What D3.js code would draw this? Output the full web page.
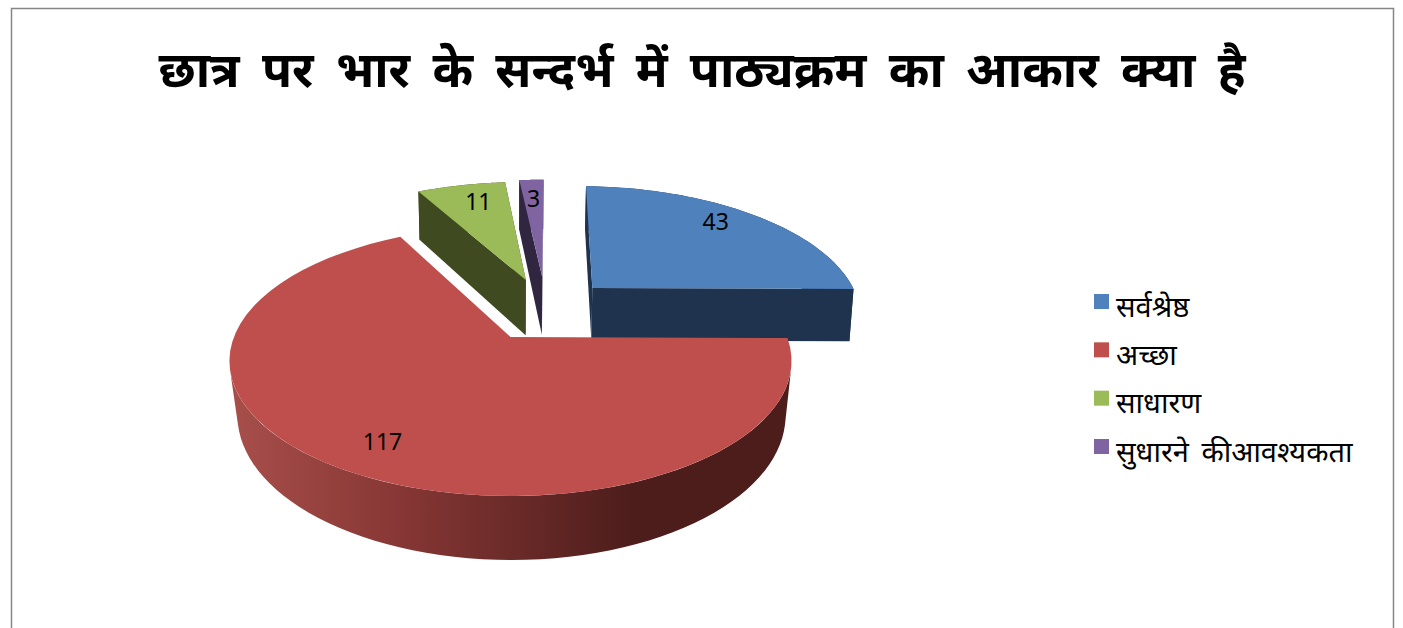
<!DOCTYPE html>
<html><head><meta charset="utf-8">
<script src="https://cdn.jsdelivr.net/npm/d3@7"></script>
<style>html,body{margin:0;padding:0;background:#fff;overflow:hidden}svg{display:block}text{font-family:"Noto Sans","Noto Sans Devanagari","Lohit Devanagari",Mangal,sans-serif}</style>
</head><body><svg id="c" width="1403" height="628"></svg>
<script>
const titleText = "छात्र पर भार के सन्दर्भ में पाठ्यक्रम का आकार क्या है";
const categories = ["सर्वश्रेष्ठ","अच्छा","साधारण","सुधारने कीआवश्यकता"];
const values = [43,117,11,3];
const colors = ["#4F81BD","#BF4F4C","#9BBB59","#8064A2"];
const wallColors = ["#1F334E","#BF4F4C","#3F4A20","#30263F"];
// in-plane explosion of each slice, in pie radii
const explodeX = [0.317,0,0.06,0.125];
const explodeY = [0.402,0,0.473,0.5];
const sliceRadiusX = [1.01,1,1.03,1.03];
const sliceRadiusY = [1.05,1,1.03,1.03];
const sliceDepth = [56,52.6,60,63];
const sliceBottomScale = [0.988,0.975,0.988,0.988];
const labelR = [0.85,0.81,0.82,0.80];
const labelShift = [-4.6,-1.5,1.8,0];
const rotationDeg = 1.5;

const cx=510.5, cy=337, persp=0.178;
const rad=d=>d*Math.PI/180;
const sx=d3.scaleLinear().domain([-1,1]).range([cx-276.6,cx+276.6]);
const sy=d3.scaleLinear().domain([-1,1]).range([cy+130.7,cy-130.7]);
function proj(x,y,i,low){
  const t=1/(1+persp*y);
  let X=sx(x*t), Y=sy(y*t);
  if(low){X=cx+(X-cx)*sliceBottomScale[i]+(i===1?1:0); Y+=sliceDepth[i]*t;}
  return [X,Y];
}
const svg=d3.select("#c");
const defs=svg.append("defs");
const g=defs.append("linearGradient").attr("id","redWall").attr("gradientUnits","userSpaceOnUse")
  .attr("x1",229).attr("x2",792).attr("y1",0).attr("y2",0);
[[0,"#A84F4B"],[0.3,"#873735"],[0.72,"#4C1D1B"],[1,"#4C1D1B"]].forEach(s=>g.append("stop").attr("offset",s[0]).attr("stop-color",s[1]));

svg.append("rect").attr("x",11.5).attr("y",8.5).attr("width",1382).attr("height",640)
  .attr("fill","#fff").attr("stroke","#868686").attr("stroke-width",1.5);

svg.append("text").attr("x",702).attr("y",87).attr("text-anchor","middle")
  .attr("font-size",49).attr("font-weight",700).attr("word-spacing",9.5).attr("fill","#000").text(titleText);

const pie=d3.pie().sort(null).startAngle(rad(rotationDeg)).endAngle(rad(360+rotationDeg)).value(d=>d)(values);
const line=d3.line();
const slices=pie.map((p,i)=>({p,i,ox:explodeX[i],oy:explodeY[i]}));
const rim=(s,low,a0=s.p.startAngle,a1=s.p.endAngle)=>d3.range(0,61).map(k=>{
  const a=a0+(a1-a0)*k/60;
  return proj(s.ox+sliceRadiusX[s.i]*Math.sin(a),s.oy+sliceRadiusY[s.i]*Math.cos(a),s.i,low);
});
const order=[3,2,0,1];
const gp=svg.append("g");
order.forEach(i=>{
  const s=slices[i], c=wallColors[i];
  const v=proj(s.ox,s.oy,i,false), vl=proj(s.ox,s.oy,i,true);
  const top=rim(s,false), bot=rim(s,true);
  if(i!==1){
    gp.append("path").attr("d",line([v,top[0],bot[0],vl])+"Z").attr("fill",c);
    gp.append("path").attr("d",line([v,top[60],bot[60],vl])+"Z").attr("fill",c);
  }
  const a0=i===1?rad(104):s.p.startAngle, a1=i===1?rad(256):s.p.endAngle;
  const t2=rim(s,false,a0,a1), b2=rim(s,true,a0,a1);
  gp.append("path").attr("d",line(t2.concat(b2.slice().reverse()))+"Z").attr("fill",i===1?"url(#redWall)":c);
  gp.append("path").attr("d",line([v].concat(top))+"Z").attr("fill",colors[i]);
});
slices.forEach(s=>{
  const a=(s.p.startAngle+s.p.endAngle)/2+rad(labelShift[s.i]);
  const q=proj(s.ox+labelR[s.i]*Math.sin(a),s.oy+labelR[s.i]*Math.cos(a),s.i,false);
  svg.append("text").attr("x",q[0]).attr("y",q[1]+8).attr("text-anchor","middle")
    .attr("font-size",23).attr("fill","#000").text(values[s.i]);
});
const ly=d3.scalePoint().domain(categories).range([301.5,446.5]);
const leg=svg.append("g").selectAll("g").data(categories).join("g").attr("transform",d=>`translate(1094,${ly(d)})`);
leg.append("rect").attr("width",15).attr("height",15).attr("y",-7.5).attr("fill",(d,i)=>colors[i]);
leg.append("text").attr("x",22).attr("y",15).attr("font-size",29).attr("word-spacing",5).attr("fill","#000").text(d=>d);
</script></body></html>
